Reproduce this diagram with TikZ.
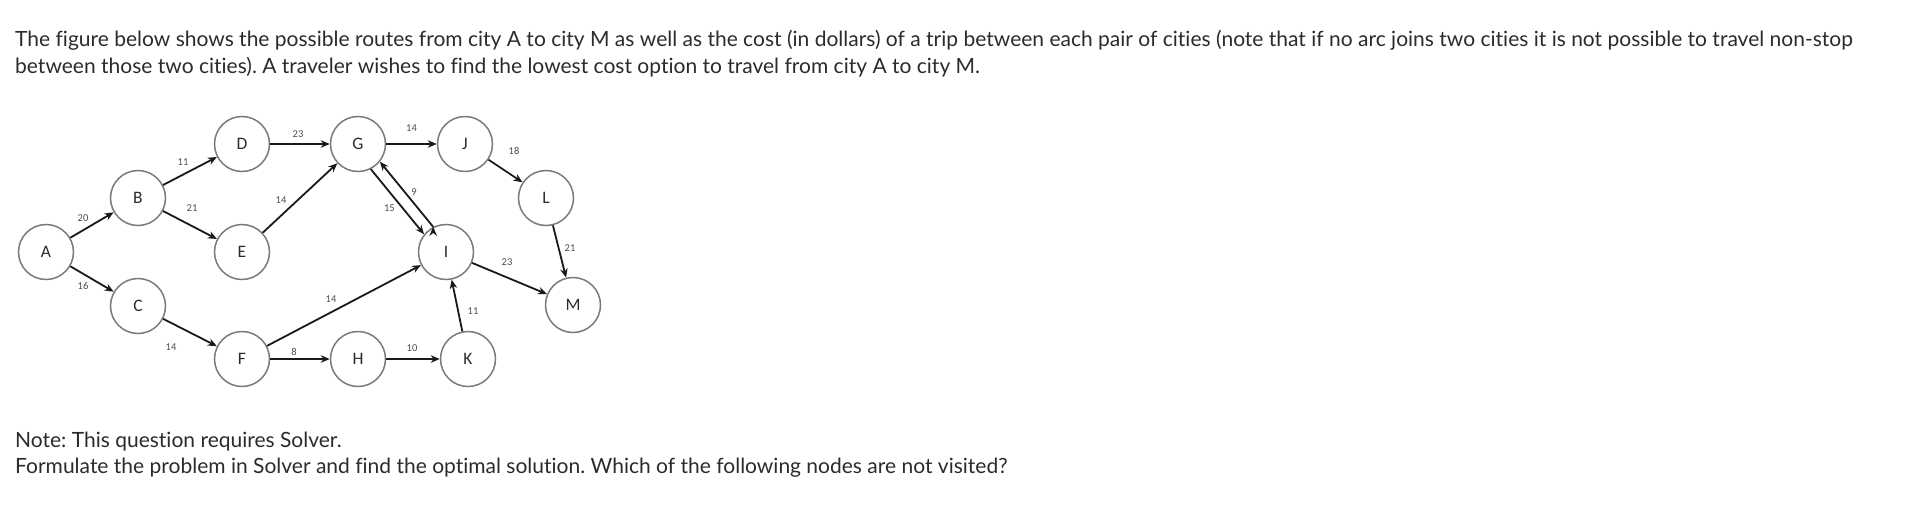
\documentclass[tikz,border=0pt]{standalone}
\usepackage{fontspec}
\setmainfont[Ligatures={NoCommon}]{Lato}
\newfontfamily\cityfont{Carlito}
\usepackage{tikz}
\usetikzlibrary{arrows.meta,positioning}
\frenchspacing

\definecolor{ringgray}{HTML}{7A7A7A}
\definecolor{inkgray}{HTML}{2B2B2B}

\begin{document}
\begin{tikzpicture}[x=1pt, y=-1pt, >={Stealth[length=9pt,width=7.5pt]},
        city node/.style={circle,draw=ringgray,line width=1.5pt,minimum size=55pt,inner sep=0pt,
                          font=\cityfont\fontsize{17.5}{17.5}\selectfont,text=inkgray},
        cost/.style={font=\cityfont\fontsize{10.5}{10.5}\selectfont,text=inkgray!85,inner sep=0pt},
        txt/.style={font=\fontsize{21}{26}\selectfont,text=inkgray,inner sep=0pt,anchor=base west}]
    \useasboundingbox (0,0) rectangle (1924,504);

    % question text
    \node[txt] (intro1) at (15,46) {The figure below shows the possible routes from city A to city M as well as the cost (in dollars) of a trip between each pair of cities (note that if no arc joins two cities it is not possible to travel non-stop};
    \node[txt] (intro2) at (15,73) {between those two cities). A traveler wishes to find the lowest cost option to travel from city A to city M.};
    \node[txt] (note1) at (15,447) {Note: This question requires Solver.};
    \node[txt] (note2) at (15,473) {Formulate the problem in Solver and find the optimal solution. Which of the following nodes are not visited?};

    % cities
    \node[city node] (A) at (46,252) {A};
    \node[city node] (B) at (138,198) {B};
    \node[city node] (C) at (138,306) {C};
    \node[city node] (D) at (242,144) {D};
    \node[city node] (E) at (242,252) {E};
    \node[city node] (F) at (242,359) {F};
    \node[city node] (G) at (358,144) {G};
    \node[city node] (H) at (358,359) {H};
    \node[city node] (I) at (446,252) {I};
    \node[city node] (J) at (465,144) {J};
    \node[city node] (K) at (468,359) {K};
    \node[city node] (L) at (546,198) {L};
    \node[city node] (M) at (573,305) {M};

    % routes
    \path[->, line width=1.8pt, draw=black!90]
        (A) edge node[cost, shift={(-9,-7)}] {20} (B)
        (A) edge node[cost, shift={(-9,7)}] {16} (C)
        (B) edge node[cost, shift={(-7,-9)}] {11} (D)
        (B) edge node[cost, shift={(2,-17)}] {21} (E)
        (C) edge node[cost, shift={(-19,15)}] {14} (F)
        (D) edge node[cost, shift={(-2,-10)}] {23} (G)
        (E) edge node[cost, shift={(-19,2)}] {14} (G)
        (F) edge node[cost, shift={(-6,-7)}] {8} (H)
        (F) edge node[cost, shift={(-13,-6.5)}] {14} (I)
        (G) edge node[cost, shift={(0,-16)}] {14} (J)
        (G.-63) edge node[cost, shift={(-8,6)}] {15} (I.141)
        (I.117) edge node[cost, shift={(7.5,-2.5)}] {9} (G.-39)
        (J) edge node[cost, shift={(8.5,-20)}] {18} (L)
        (L) edge node[cost, shift={(10.5,-3.5)}] {21} (M)
        (I) edge node[cost, shift={(-2.5,-16.5)}] {23} (M)
        (H) edge node[cost, shift={(-1,-11)}] {10} (K)
        (K) edge node[cost, shift={(16,5.5)}] {11} (I);
\end{tikzpicture}
\end{document}
